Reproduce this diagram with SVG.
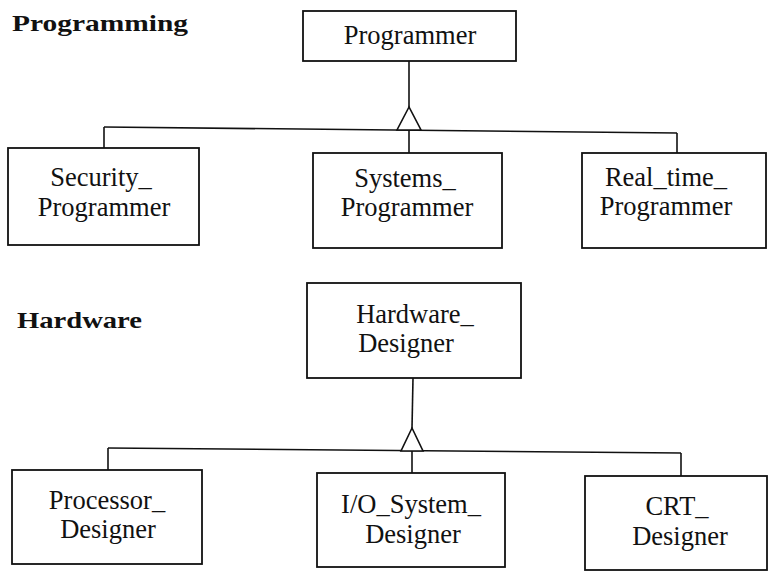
<svg xmlns="http://www.w3.org/2000/svg" width="768" height="571" viewBox="0 0 768 571">
<style>
.box{fill:#fff;stroke:#111;stroke-width:1.8}
.ln{fill:none;stroke:#111;stroke-width:1.6}
.tri{fill:#fff;stroke:#111;stroke-width:1.6;stroke-linejoin:miter}
.t{font-family:"Liberation Serif","DejaVu Serif",serif;font-size:26.5px;fill:#111;text-anchor:middle}
.h{font-family:"Liberation Serif","DejaVu Serif",serif;font-size:24px;font-weight:bold;fill:#111}
</style>
<rect width="768" height="571" fill="#fff"/>
<text class="h" x="12" y="31" textLength="176" lengthAdjust="spacingAndGlyphs">Programming</text>
<text class="h" x="17" y="328" textLength="125" lengthAdjust="spacingAndGlyphs">Hardware</text>
<g id="connectors">
<line class="ln" x1="409" y1="61" x2="409" y2="107"/>
<line class="ln" x1="104" y1="127" x2="677" y2="133"/>
<line class="ln" x1="104" y1="127" x2="104" y2="148"/>
<line class="ln" x1="409" y1="130" x2="409" y2="153"/>
<line class="ln" x1="677" y1="133" x2="677" y2="153"/>
<polygon class="tri" points="409,107 397,130 421,130"/>
<line class="ln" x1="413" y1="378" x2="412" y2="428"/>
<line class="ln" x1="108" y1="448" x2="681" y2="453"/>
<line class="ln" x1="108" y1="448" x2="108" y2="470"/>
<line class="ln" x1="412" y1="451" x2="412" y2="473"/>
<line class="ln" x1="681" y1="453" x2="681" y2="476"/>
<polygon class="tri" points="412,428 401,451 423,451"/>
</g>
<g id="programmer">
<rect class="box" x="303" y="11" width="213" height="50"/>
<text class="t" x="410" y="44">Programmer</text>
</g>
<g id="security_programmer">
<rect class="box" x="8" y="148" width="191" height="97"/>
<text class="t" x="101" y="186">Security_</text>
<text class="t" x="104" y="216">Programmer</text>
</g>
<g id="systems_programmer">
<rect class="box" x="313" y="153" width="189" height="95"/>
<text class="t" x="405" y="187">Systems_</text>
<text class="t" x="407" y="216">Programmer</text>
</g>
<g id="realtime_programmer">
<rect class="box" x="582" y="153" width="184" height="95"/>
<text class="t" x="666" y="186">Real_time_</text>
<text class="t" x="666" y="215">Programmer</text>
</g>
<g id="hardware_designer">
<rect class="box" x="307" y="283" width="214" height="95"/>
<text class="t" x="415" y="323">Hardware_</text>
<text class="t" x="406" y="352">Designer</text>
</g>
<g id="processor_designer">
<rect class="box" x="12" y="470" width="190" height="94"/>
<text class="t" x="107" y="509">Processor_</text>
<text class="t" x="108" y="538">Designer</text>
</g>
<g id="io_system_designer">
<rect class="box" x="317" y="473" width="188" height="94"/>
<text class="t" x="411" y="513">I/O_System_</text>
<text class="t" x="413" y="543">Designer</text>
</g>
<g id="crt_designer">
<rect class="box" x="585" y="476" width="182" height="94"/>
<text class="t" x="677" y="515">CRT_</text>
<text class="t" x="680" y="545">Designer</text>
</g>
</svg>
